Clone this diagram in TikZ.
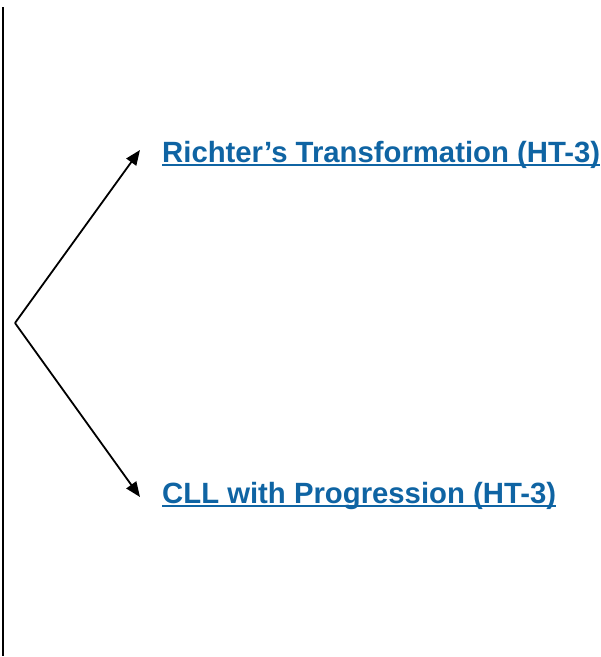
\documentclass[tikz,border=0pt]{standalone}
\usepackage{fontspec}
\setmainfont{Liberation Sans}
\usetikzlibrary{arrows.meta}
\definecolor{linkblue}{HTML}{0F64A3}
\tikzset{
  linktext/.style={font=\fontsize{29.3}{34}\selectfont\bfseries, text=linkblue, inner sep=0pt, anchor=base west},
  uline/.style={draw=linkblue, line width=1.8pt},
  arr/.style={line width=1.8pt, -{Triangle[length=15pt,width=12pt]}}
}
\begin{document}
\begin{tikzpicture}[x=1pt,y=1pt]
\useasboundingbox (0,0) rectangle (601,-657);
\coordinate (vtop) at (3,-7);
\coordinate (vbot) at (3,-656);
\draw[line width=2.2pt] (vtop) -- (vbot);
\node[linktext] (r) at (162,-162) {Richter’s Transformation (HT-3)};
\node[linktext] (c) at (162,-503) {CLL with Progression (HT-3)};
\draw[uline] ([yshift=-3pt]r.base west) -- ([yshift=-3pt]r.base east);
\draw[uline] ([yshift=-3pt]c.base west) -- ([yshift=-3pt]c.base east);
\coordinate (apex) at (15,-323);
\coordinate (t1) at (140,-150);
\coordinate (t2) at (140,-497);
\draw[arr] (apex) -- (t1);
\draw[arr] (apex) -- (t2);
\end{tikzpicture}
\end{document}
